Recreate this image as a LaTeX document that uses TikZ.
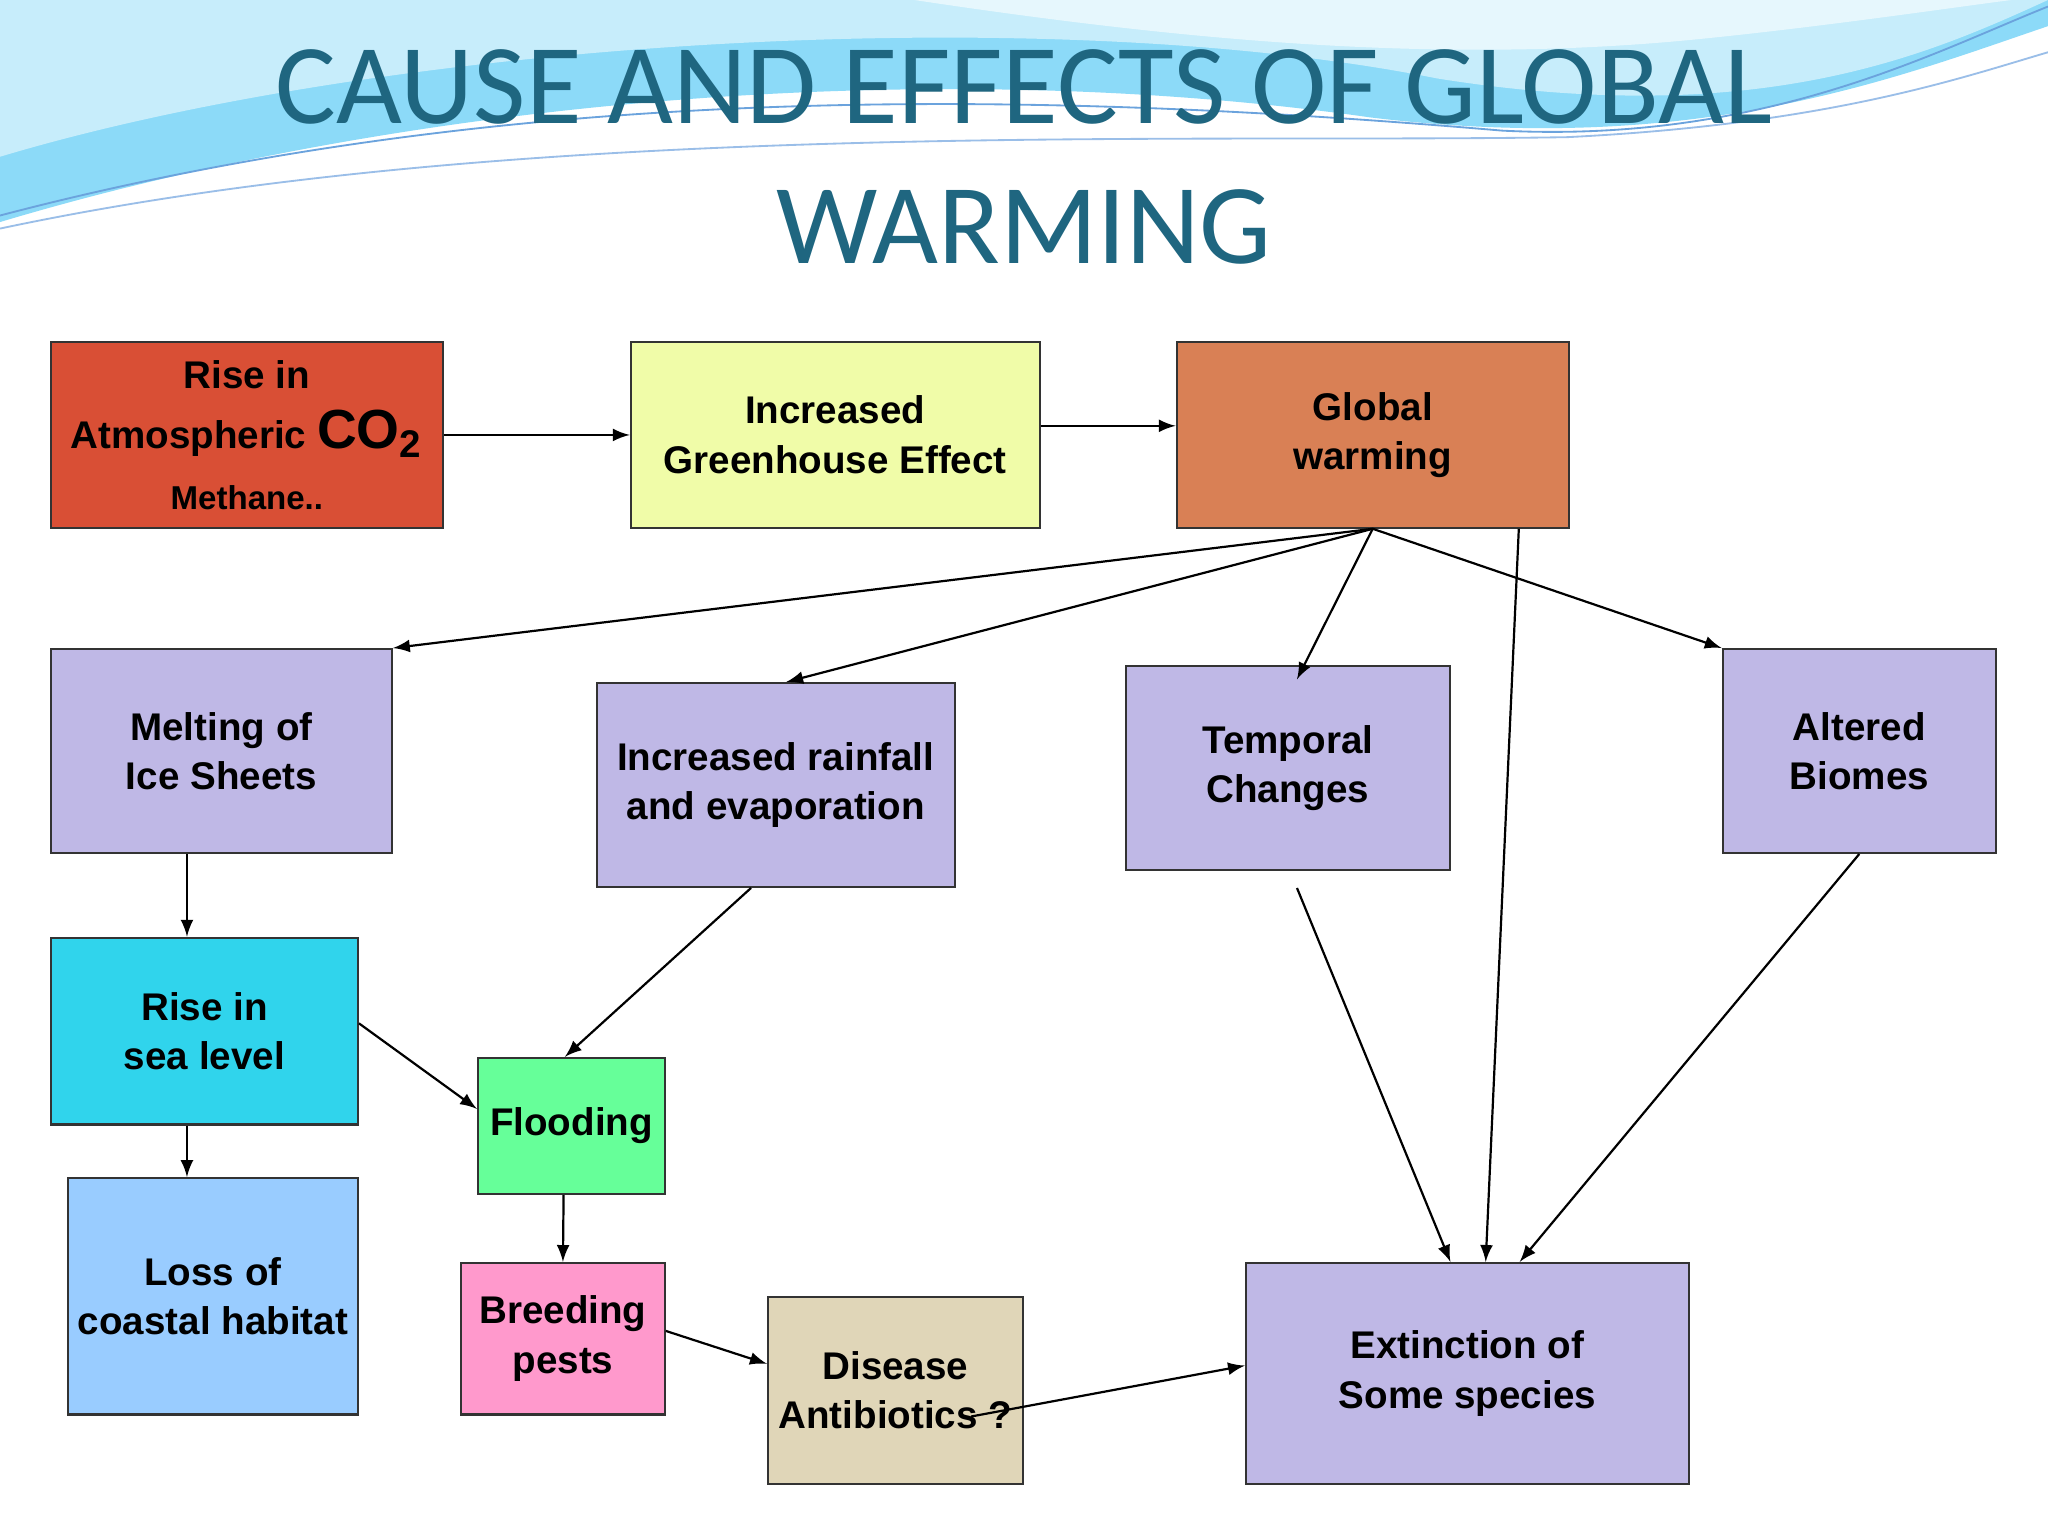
\documentclass[tikz,border=0pt]{standalone}
\usepackage{fontspec}
\setmainfont{Liberation Sans}
\newfontfamily\titlefont{Carlito}
\usetikzlibrary{fit,calc}
\definecolor{lav}{HTML}{BFB8E6}
\definecolor{titc}{HTML}{1F6680}
\definecolor{cco}{HTML}{D94F35}
\definecolor{cgh}{HTML}{F0FCA8}
\definecolor{cgw}{HTML}{D98055}
\definecolor{csea}{HTML}{30D4EC}
\definecolor{closs}{HTML}{99CCFF}
\definecolor{cfl}{HTML}{66FF99}
\definecolor{cbr}{HTML}{FF99CC}
\definecolor{cdis}{HTML}{E0D6B8}
\tikzset{
  box/.style={draw=black!80,line width=0.6pt,inner sep=0pt},
  txt/.style={align=center,inner sep=0pt,font=\fontsize{10.5}{13.5}\selectfont\bfseries},
  arr/.style={-latex,line width=0.6pt}
}
\newcommand\mybox[5]{\node[box,fill=#4,fit={#2 #3}] (#1) {};\node[txt] at (#1.center) {#5};}
\begin{document}
\begin{tikzpicture}[x=0.0125cm,y=-0.0125cm]
\useasboundingbox (0,0) rectangle (1568,1176);
\fill[white!95!blue!3] (0,0) rectangle (1568,1176);
% waves
\fill[cyan!45!white] (0,0) -- (0,170) .. controls (300,80) and (700,40) .. (1050,90) .. controls (1300,120) and (1450,60) .. (1568,20) -- (1568,0) -- cycle;
\fill[cyan!22!white] (0,0) -- (0,120) .. controls (300,30) and (800,0) .. (1100,60) .. controls (1350,100) and (1480,40) .. (1568,0) -- cycle;
\fill[white!90!cyan] (700,0) .. controls (900,30) and (1100,50) .. (1300,30) .. controls (1400,20) and (1500,5) .. (1540,0) -- cycle;
\draw[cyan!60!blue!60,line width=0.5pt] (0,165) .. controls (400,60) and (800,70) .. (1150,100) .. controls (1350,110) and (1480,40) .. (1568,5);
\draw[cyan!60!blue!40,line width=0.5pt] (0,175) .. controls (400,90) and (900,110) .. (1200,105) .. controls (1400,95) and (1500,60) .. (1568,40);
\node[text=titc,font=\titlefont\fontsize{31}{38}\selectfont,align=center] (title) at (784,120) {CAUSE AND EFFECTS OF GLOBAL\\WARMING};
% boxes
\mybox{co2}{(39,262)}{(339,404)}{cco}{Rise in\\[3pt]Atmospheric {\fontsize{15}{15}\selectfont CO$_{\mathbf 2}$}\\[3pt]{\fontsize{9}{11}\selectfont Methane..}}
\mybox{gh}{(483,262)}{(796,404)}{cgh}{Increased\\Greenhouse Effect}
\mybox{gw}{(901,262)}{(1201,404)}{cgw}{Global\\warming}
\mybox{melt}{(39,497)}{(300,653)}{lav}{Melting of\\Ice Sheets}
\mybox{rain}{(457,523)}{(731,679)}{lav}{Increased rainfall\\and evaporation}
\mybox{temp}{(862,510)}{(1110,666)}{lav}{Temporal\\Changes}
\mybox{alt}{(1319,497)}{(1528,653)}{lav}{Altered\\Biomes}
\mybox{sea}{(39,718)}{(274,861)}{csea}{Rise in\\sea level}
\mybox{flood}{(366,810)}{(509,914)}{cfl}{Flooding}
\mybox{loss}{(52,902)}{(274,1083)}{closs}{Loss of\\coastal habitat}
\mybox{breed}{(353,967)}{(509,1083)}{cbr}{Breeding\\pests}
\mybox{dis}{(588,993)}{(783,1136)}{cdis}{Disease\\Antibiotics ?}
\mybox{ext}{(954,967)}{(1293,1136)}{lav}{Extinction of\\Some species}
% arrows
\draw[arr] (co2.east) -- (gh.west|-co2.east);
\draw[arr] ($(gh.east)+(0,-7)$) -- ($(gw.west)+(0,-7)$);
\draw[arr] (gw.south) -- (melt.north east);
\draw[arr] (gw.south) -- ($(rain.north)+(8,0)$);
\draw[arr] (gw.south) -- ($(temp.north)+(7,11)$);
\draw[arr] (gw.south) -- (alt.north west);
\draw[arr] ($(gw.south east)+(-39,0)$) -- ($(ext.north)+(14,0)$);
\draw[arr] ($(temp.south)+(7,13)$) -- ($(ext.north)+(-13,0)$);
\draw[arr] (alt.south) -- ($(ext.north)+(40,0)$);
\draw[arr] ($(melt.south west)+(105,0)$) -- ($(sea.north west)+(105,0)$);
\draw[arr] ($(rain.south)+(-19,0)$) -- ($(flood.north)+(-5,0)$);
\draw[arr] ($(sea.east)+(0,-6)$) -- ($(flood.west)+(0,-13)$);
\draw[arr] ($(sea.south west)+(105,0)$) -- ($(loss.north west)+(92,0)$);
\draw[arr] ($(flood.south)+(-6,0)$) -- ($(breed.north)+(0,0)$);
\draw[arr] ($(breed.east)+(0,-6)$) -- ($(dis.north west)+(0,52)$);
\draw[arr] ($(dis.center)+(58,20)$) -- ($(ext.west)+(0,-6)$);
\end{tikzpicture}
\end{document}
